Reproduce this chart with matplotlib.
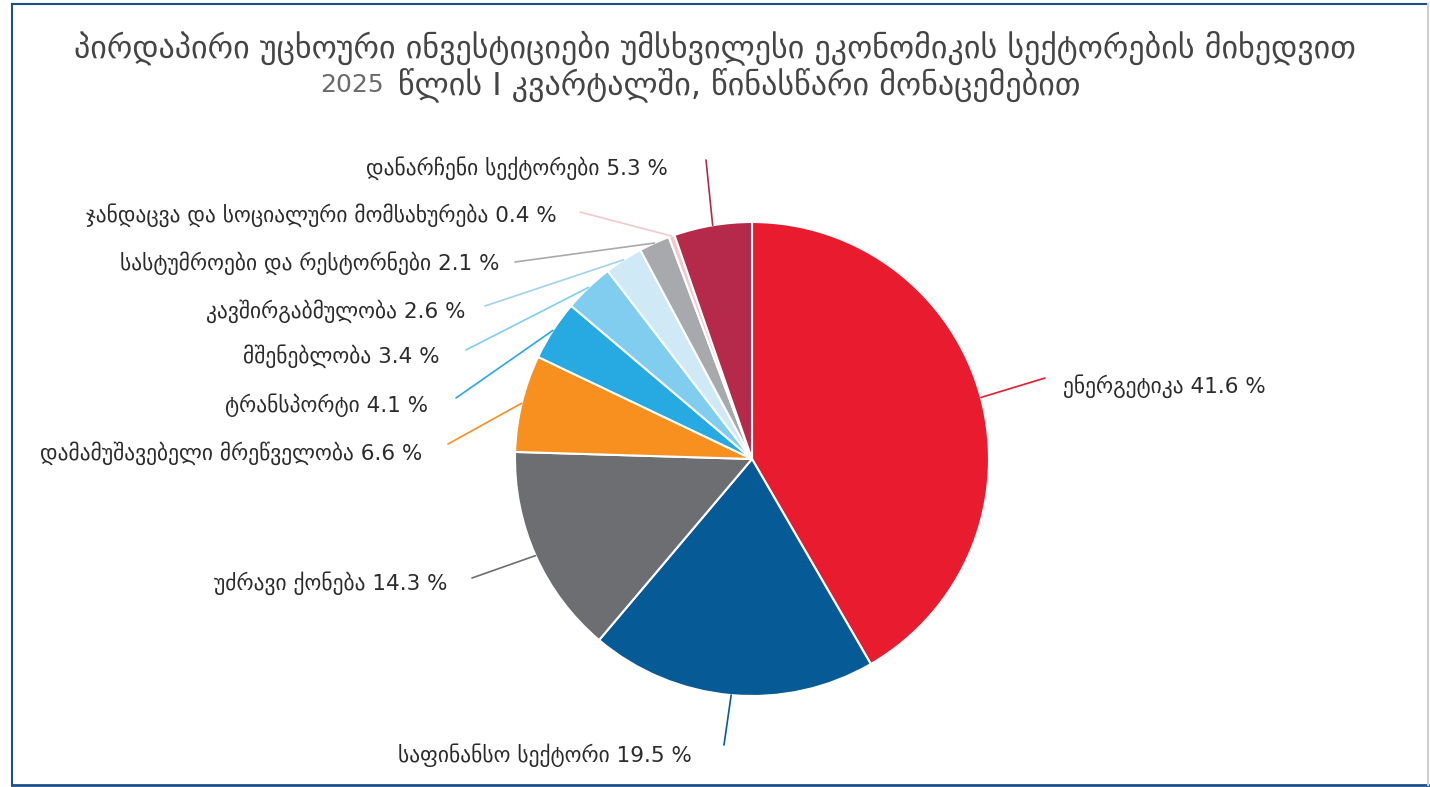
import numpy as np
import matplotlib.pyplot as plt
from matplotlib.lines import Line2D

# 데이터
sectors = ['ენერგეტიკა', 'საფინანსო სექტორი', 'უძრავი ქონება',
           'დამამუშავებელი მრეწველობა', 'ტრანსპორტი', 'მშენებლობა',
           'კავშირგაბმულობა', 'სასტუმროები და რესტორნები',
           'ჯანდაცვა და სოციალური მომსახურება', 'დანარჩენი სექტორები']
shares = [41.6, 19.5, 14.3, 6.6, 4.1, 3.4, 2.6, 2.1, 0.4, 5.3]
colors = ['#e81c2e', '#065a96', '#6d6e71', '#f7901e', '#27aae1',
          '#80cdf0', '#cfeaf6', '#a7a9ac', '#f3c9d0', '#b52a4a']

title1 = 'პირდაპირი უცხოური ინვესტიციები უმსხვილესი ეკონომიკის სექტორების მიხედვით'
title2_year = '2025'
title2 = 'წლის I კვარტალში, წინასწარი მონაცემებით'

# 레이아웃 (픽셀 좌표, 위에서부터)
W, H = 1430, 787
cx, cy, r = 752, 459, 237
# 라벨 위치: (x, y, 정렬)
label_pos = [(1063, 386, 'left'), (692, 755, 'right'), (447, 583, 'right'),
             (422, 453, 'right'), (428, 405, 'right'), (440, 356, 'right'),
             (465, 311, 'right'), (500, 263, 'right'), (557, 215, 'right'),
             (668, 168, 'right')]
line_end = [(1045, 378), (724, 745), (472, 578), (448, 444), (456, 398),
            (466, 350), (485, 306), (515, 262), (580, 212), (706, 160)]

plt.rcParams['font.family'] = ['DejaVu Sans']

fig = plt.figure(figsize=(W / 100, H / 100), dpi=100)
ax = fig.add_axes([0, 0, 1, 1])

wedges, _ = ax.pie(shares, colors=colors, startangle=90, counterclock=False,
                   center=(cx, H - cy), radius=r,
                   wedgeprops=dict(edgecolor='white', linewidth=1.5))
ax.set_xlim(0, W)
ax.set_ylim(0, H)
ax.set_aspect('equal')
ax.axis('off')

total = sum(shares)
start = 90.0
for i, (name, val) in enumerate(zip(sectors, shares)):
    ang = start - val / total * 360 / 2
    start -= val / total * 360
    x0 = cx + r * np.cos(np.radians(ang))
    y0 = cy - r * np.sin(np.radians(ang))
    x1, y1 = line_end[i]
    ax.plot([x0, x1], [H - y0, H - y1], color=colors[i] if i != 6 else '#9fd3ea',
            lw=1.2, solid_capstyle='round', zorder=1)
    lx, ly, ha = label_pos[i]
    ax.text(lx, H - ly, f'{name} {val} %', ha=ha, va='center',
            fontsize=15.5, color='#2b2b2b')

fig.text(715 / W, 1 - 48 / H, title1, ha='center', va='center',
         fontsize=23, color='#454545')
fig.text(384 / W, 1 - 85 / H, title2_year, ha='right', va='center',
         fontsize=18, color='#6a6a6a')
fig.text(398 / W, 1 - 85 / H, title2, ha='left', va='center',
         fontsize=23, color='#454545')

# 테두리
bc = '#1d4f8a'
fig.add_artist(Line2D([12 / W, 12 / W], [1 - 4 / H, 1 - 785 / H], color=bc, lw=1.5))
fig.add_artist(Line2D([12 / W, 1428 / W], [1 - 4 / H, 1 - 4 / H], color=bc, lw=1.5))
fig.add_artist(Line2D([12 / W, 1428 / W], [1 - 785 / H, 1 - 785 / H], color=bc, lw=2))
fig.add_artist(Line2D([1428 / W, 1428 / W], [1 - 4 / H, 1 - 785 / H], color='#d0d0d0', lw=1.5))

plt.savefig('out.png', dpi=100)
